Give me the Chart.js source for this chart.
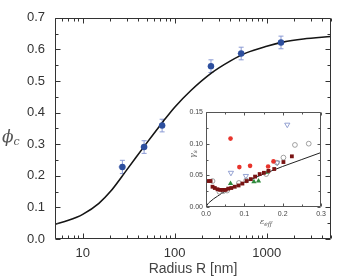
<!DOCTYPE html>
<html lang="en">
<head>
    <meta charset="UTF-8">
    <title>Critical volume fraction vs radius</title>
    <script src="https://cdn.jsdelivr.net/npm/chart.js"></script>
    <style>
        body {
            margin: 0;
            background-color: #ffffff;
        }
        .wrap {
            position: relative;
            width: 338px;
            height: 279px;
        }
        #mainChart {
            position: absolute;
            left: 0;
            top: 0;
        }
        #insetChart {
            position: absolute;
            left: 168px;
            top: 100px;
        }
        .math {
            position: absolute;
            font-family: 'DejaVu Serif', serif;
            font-style: italic;
            color: #555;
            white-space: nowrap;
            line-height: 1;
        }
        .math sub {
            vertical-align: baseline;
            position: relative;
        }
    </style>
</head>
<body>
    <div class="wrap">
        <canvas id="mainChart" width="338" height="279"></canvas>
        <canvas id="insetChart" width="165" height="130"></canvas>
        <div class="math" style="left:2px; top:128px; font-size:17px;">ϕ<sub style="font-size:11px; top:3px;">c</sub></div>
        <div class="math" style="left:189px; top:150px; font-size:8px; transform:rotate(-90deg);">γ<sub style="font-size:6px; top:2px;">s</sub></div>
        <div class="math" style="left:260px; top:218px; font-size:8px;">ε<sub style="font-size:6px; top:2px;">eff</sub></div>
    </div>

    <script>
        // main plot: measured points with error bars
        const radius = [27, 46.5, 73, 248, 528, 1430];
        const phi = [0.228, 0.291, 0.359, 0.547, 0.587, 0.622];
        const radiusErr = [2.5, 4, 6, 20, 45, 120];
        const phiErr = [0.021, 0.02, 0.02, 0.02, 0.02, 0.02];

        // main plot: fitted curve
        const fitR = [5, 7, 10, 15, 20, 30, 50, 75, 100, 150, 250, 400, 600, 1000, 1500, 2500, 5000];
        const fitPhi = [0.047, 0.059, 0.078, 0.113, 0.150, 0.218, 0.305, 0.372, 0.417, 0.470, 0.525, 0.563, 0.589, 0.610, 0.623, 0.633, 0.641];

        // main plot ticks
        const xMajor = [10, 100, 1000];
        const xMinor = [5, 6, 7, 8, 9, 20, 30, 40, 50, 60, 70, 80, 90, 200, 300, 400, 500, 600, 700, 800, 900, 2000, 3000, 4000, 5000];
        const yMajor = [0, 0.1, 0.2, 0.3, 0.4, 0.5, 0.6, 0.7];
        const yMinor = [0.05, 0.15, 0.25, 0.35, 0.45, 0.55, 0.65];

        // inset: gamma_s vs eps_eff
        const sqX = [0.005, 0.012, 0.017, 0.023, 0.030, 0.037, 0.044, 0.051, 0.058, 0.066, 0.075, 0.085, 0.095, 0.106, 0.117, 0.128, 0.140, 0.151, 0.163, 0.178, 0.202, 0.224];
        const sqY = [0.041, 0.041, 0.032, 0.030, 0.028, 0.027, 0.027, 0.027, 0.029, 0.030, 0.032, 0.034, 0.037, 0.041, 0.044, 0.048, 0.052, 0.054, 0.057, 0.060, 0.071, 0.080];
        const redX = [0.064, 0.087, 0.115, 0.162, 0.176];
        const redY = [0.108, 0.063, 0.065, 0.064, 0.072];
        const openX = [0.017, 0.035, 0.045, 0.055, 0.086, 0.105, 0.157, 0.185, 0.202, 0.232, 0.268];
        const openY = [0.041, 0.024, 0.025, 0.026, 0.038, 0.042, 0.052, 0.070, 0.078, 0.098, 0.100];
        const triDownX = [0.065, 0.104, 0.186, 0.212];
        const triDownY = [0.054, 0.049, 0.070, 0.130];
        const greenX = [0.064, 0.125, 0.137, 0.160];
        const greenY = [0.037, 0.040, 0.041, 0.055];
        const lineX = [0, 0.005, 0.01, 0.02, 0.03, 0.05, 0.075, 0.1, 0.15, 0.2, 0.25, 0.3];
        const lineY = [0, 0.005, 0.008, 0.013, 0.017, 0.025, 0.032, 0.039, 0.052, 0.064, 0.075, 0.086];

        const insetXMajor = [0, 0.1, 0.2, 0.3];
        const insetXMinor = [0.05, 0.15, 0.25];
        const insetYMajor = [0, 0.05, 0.1, 0.15];
        const insetYMinor = [0.025, 0.075, 0.125];

        const pts = (xs, ys) => xs.map((v, i) => ({ x: v, y: ys[i] }));

        // box around plot area + inward ticks on all four sides
        function frameTicks(xMaj, xMin, yMaj, yMin, majLen, minLen, color) {
            return {
                id: 'frameTicks',
                afterDatasetsDraw(chart) {
                    const { ctx, chartArea: a, scales: { x, y } } = chart;
                    const L = Math.round(a.left) + 0.5, R = Math.round(a.right) - 0.5;
                    const T = Math.round(a.top) + 0.5, B = Math.round(a.bottom) - 0.5;
                    ctx.save();
                    ctx.strokeStyle = color;
                    ctx.lineWidth = 1;
                    ctx.beginPath();
                    ctx.rect(L, T, R - L, B - T);
                    const xt = (v, len) => {
                        const p = Math.round(x.getPixelForValue(v)) + 0.5;
                        ctx.moveTo(p, B); ctx.lineTo(p, B - len);
                        ctx.moveTo(p, T); ctx.lineTo(p, T + len);
                    };
                    const yt = (v, len) => {
                        const p = Math.round(y.getPixelForValue(v)) + 0.5;
                        ctx.moveTo(L, p); ctx.lineTo(L + len, p);
                        ctx.moveTo(R, p); ctx.lineTo(R - len, p);
                    };
                    xMaj.forEach(v => xt(v, majLen));
                    xMin.forEach(v => xt(v, minLen));
                    yMaj.forEach(v => yt(v, majLen));
                    yMin.forEach(v => yt(v, minLen));
                    ctx.stroke();
                    ctx.restore();
                }
            };
        }

        const errorBars = {
            id: 'errorBars',
            beforeDatasetsDraw(chart) {
                const { ctx, scales: { x, y } } = chart;
                ctx.save();
                ctx.strokeStyle = '#8a9ad4';
                ctx.lineWidth = 1;
                ctx.beginPath();
                radius.forEach((r, i) => {
                    const px = x.getPixelForValue(r);
                    const py = y.getPixelForValue(phi[i]);
                    const yTop = y.getPixelForValue(phi[i] + phiErr[i]);
                    const yBot = y.getPixelForValue(phi[i] - phiErr[i]);
                    const xL = x.getPixelForValue(r - radiusErr[i]);
                    const xR = x.getPixelForValue(r + radiusErr[i]);
                    ctx.moveTo(px, yTop); ctx.lineTo(px, yBot);
                    ctx.moveTo(px - 2.5, yTop); ctx.lineTo(px + 2.5, yTop);
                    ctx.moveTo(px - 2.5, yBot); ctx.lineTo(px + 2.5, yBot);
                    ctx.moveTo(xL, py); ctx.lineTo(xR, py);
                });
                ctx.stroke();
                ctx.restore();
            }
        };

        const mainCtx = document.getElementById('mainChart').getContext('2d');
        const mainChart = new Chart(mainCtx, {
            type: 'scatter',
            data: {
                datasets: [
                    {
                        label: 'measured',
                        data: pts(radius, phi),
                        pointRadius: 3.2,
                        pointBackgroundColor: '#2d4f9e',
                        pointBorderColor: '#2d4f9e',
                        pointBorderWidth: 0
                    },
                    {
                        label: 'fit',
                        data: pts(fitR, fitPhi),
                        showLine: true,
                        pointRadius: 0,
                        borderColor: '#151515',
                        borderWidth: 1.6,
                        cubicInterpolationMode: 'monotone'
                    }
                ]
            },
            options: {
                responsive: false,
                animation: false,
                devicePixelRatio: 1,
                layout: { padding: { top: 14, right: 1, left: 0, bottom: 0 } },
                plugins: {
                    legend: { display: false },
                    tooltip: { enabled: false }
                },
                scales: {
                    x: {
                        type: 'logarithmic',
                        min: 5,
                        max: 5000,
                        grid: { display: false, drawTicks: false },
                        border: { display: false },
                        ticks: {
                            autoSkip: false,
                            maxRotation: 0,
                            padding: 7,
                            color: '#333',
                            font: { family: 'Liberation Sans', size: 13 },
                            callback: v => xMajor.some(m => Math.abs(m - v) < 1e-6) ? String(Math.round(v)) : ''
                        },
                        title: {
                            display: true,
                            text: 'Radius R [nm]',
                            color: '#444',
                            font: { family: 'Liberation Sans', size: 14 },
                            padding: { top: 0, bottom: 1 }
                        },
                        afterFit: s => { s.height = 40; }
                    },
                    y: {
                        min: 0,
                        max: 0.7,
                        grid: { display: false, drawTicks: false },
                        border: { display: false },
                        ticks: {
                            stepSize: 0.1,
                            padding: 10,
                            color: '#333',
                            font: { family: 'Liberation Sans', size: 13 },
                            callback: v => v.toFixed(1)
                        },
                        afterFit: s => { s.width = 55; }
                    }
                }
            },
            plugins: [errorBars, frameTicks(xMajor, xMinor, yMajor, yMinor, 5, 3, '#333')]
        });

        const insetCtx = document.getElementById('insetChart').getContext('2d');
        const insetChart = new Chart(insetCtx, {
            type: 'scatter',
            data: {
                datasets: [
                    {
                        label: 'squares',
                        data: pts(sqX, sqY),
                        pointStyle: 'rect',
                        pointRadius: 2.7,
                        pointBackgroundColor: '#7a1414',
                        pointBorderColor: '#7a1414',
                        pointBorderWidth: 0
                    },
                    {
                        label: 'red circles',
                        data: pts(redX, redY),
                        pointRadius: 2.3,
                        pointBackgroundColor: '#e8342c',
                        pointBorderColor: '#e8342c',
                        pointBorderWidth: 0
                    },
                    {
                        label: 'open circles',
                        data: pts(openX, openY),
                        pointRadius: 2.4,
                        pointBackgroundColor: 'rgba(0,0,0,0)',
                        pointBorderColor: '#8a8a8a',
                        pointBorderWidth: 0.8
                    },
                    {
                        label: 'down triangles',
                        data: pts(triDownX, triDownY),
                        pointStyle: 'triangle',
                        rotation: 180,
                        pointRadius: 3,
                        pointBackgroundColor: 'rgba(0,0,0,0)',
                        pointBorderColor: '#7b8cc8',
                        pointBorderWidth: 0.8
                    },
                    {
                        label: 'green triangles',
                        data: pts(greenX, greenY),
                        pointStyle: 'triangle',
                        pointRadius: 3,
                        pointBackgroundColor: '#2f8a3c',
                        pointBorderColor: '#2f8a3c',
                        pointBorderWidth: 0
                    },
                    {
                        label: 'model',
                        data: pts(lineX, lineY),
                        showLine: true,
                        pointRadius: 0,
                        borderColor: '#222',
                        borderWidth: 1,
                        cubicInterpolationMode: 'monotone'
                    }
                ]
            },
            options: {
                responsive: false,
                animation: false,
                devicePixelRatio: 1,
                layout: { padding: { top: 12, right: 12, left: 0, bottom: 0 } },
                plugins: {
                    legend: { display: false },
                    tooltip: { enabled: false }
                },
                scales: {
                    x: {
                        min: 0,
                        max: 0.3,
                        grid: { display: false, drawTicks: false },
                        border: { display: false },
                        ticks: {
                            stepSize: 0.1,
                            maxRotation: 0,
                            padding: 3,
                            color: '#444',
                            font: { family: 'Liberation Sans', size: 7 },
                            callback: v => v.toFixed(1)
                        },
                        afterFit: s => { s.height = 23; }
                    },
                    y: {
                        min: 0,
                        max: 0.15,
                        grid: { display: false, drawTicks: false },
                        border: { display: false },
                        ticks: {
                            stepSize: 0.05,
                            padding: 3,
                            color: '#444',
                            font: { family: 'Liberation Sans', size: 7 },
                            callback: v => v.toFixed(2)
                        },
                        afterFit: s => { s.width = 38; }
                    }
                }
            },
            plugins: [frameTicks(insetXMajor, insetXMinor, insetYMajor, insetYMinor, 3, 2, '#555')]
        });
    </script>
</body>
</html>
